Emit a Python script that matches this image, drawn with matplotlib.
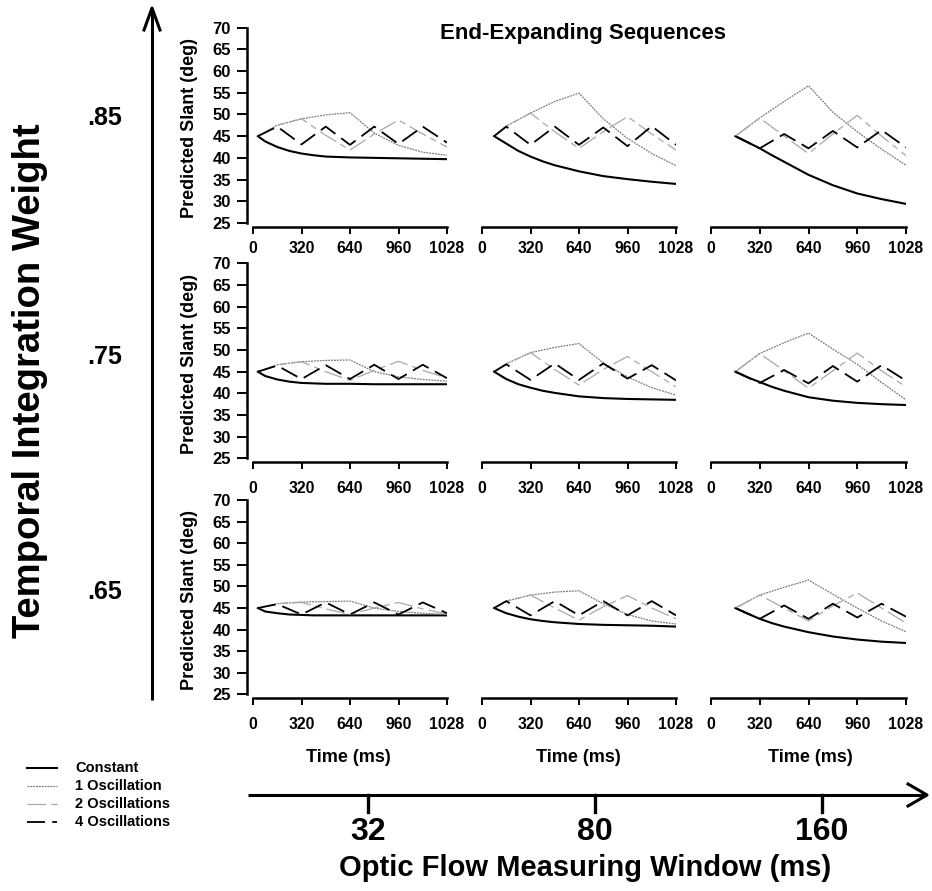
import matplotlib
matplotlib.use("Agg")
import matplotlib.pyplot as plt

plt.rcParams['font.family'] = ['Liberation Sans', 'DejaVu Sans']
plt.rcParams['font.weight'] = 'bold'

W, H = 932, 891

# ---------------- data ----------------
windows = [32, 80, 160]
weights = [".85", ".75", ".65"]
series_names = ["Constant", "1 Oscillation", "2 Oscillations", "4 Oscillations"]
xtick_vals = [0, 320, 640, 960, 1280]
xtick_labels = ["0", "320", "640", "960", "1028"]
ytick_vals = [25, 30, 35, 40, 45, 50, 55, 60, 65, 70]

# time samples (ms) per measuring window
t_const = {
    32: [32, 80, 160, 240, 320, 400, 480, 640, 800, 960, 1120, 1280],
    80: [80, 160, 240, 320, 400, 480, 640, 800, 960, 1120, 1280],
    160: [160, 240, 320, 400, 480, 640, 800, 960, 1120, 1280],
}
t_osc = {
    32: [32, 160, 320, 480, 640, 800, 960, 1120, 1280],
    80: [80, 160, 320, 480, 640, 800, 960, 1120, 1280],
    160: [160, 320, 480, 640, 800, 960, 1120, 1280],
}

# weight .85
const_85 = [[45, 43.8, 42.5, 41.6, 41.0, 40.6, 40.3, 40.1, 40.0, 39.9, 39.8, 39.7],
            [45, 43.3, 41.6, 40.3, 39.2, 38.3, 36.9, 35.8, 35.1, 34.5, 34.0],
            [45, 43.6, 42.2, 40.6, 39.1, 36.1, 33.7, 31.8, 30.5, 29.4]]
osc1_85 = [[45, 47.5, 49.0, 49.9, 50.4, 45.7, 42.9, 41.3, 40.6],
           [45, 47.3, 50.3, 53.0, 54.9, 49.0, 44.5, 41.0, 38.2],
           [45, 49.2, 53.0, 56.6, 50.5, 46.0, 42.0, 38.3]]
osc2_85 = [[45, 47.5, 49.0, 45.2, 41.8, 45.5, 48.7, 45.5, 42.5],
           [45, 47.3, 50.3, 46.0, 42.2, 46.0, 49.5, 45.5, 41.8],
           [45, 49.2, 45.0, 41.0, 45.5, 49.8, 45.0, 40.5]]
osc4_85 = [[45, 47.2, 43.1, 47.2, 43.0, 47.2, 43.2, 47.2, 43.5],
           [45, 47.2, 43.0, 47.2, 43.0, 47.0, 42.7, 47.3, 43.0],
           [45, 42.2, 45.5, 42.2, 46.2, 42.4, 46.4, 42.4]]

# weight .75
const_75 = [[45, 44.0, 43.2, 42.7, 42.4, 42.3, 42.2, 42.2, 42.1, 42.1, 42.1, 42.1],
            [45, 43.3, 42.1, 41.3, 40.6, 40.1, 39.3, 38.9, 38.7, 38.6, 38.5],
            [45, 43.7, 42.6, 41.5, 40.6, 39.1, 38.3, 37.8, 37.5, 37.3]]
osc1_75 = [[45, 46.6, 47.3, 47.6, 47.7, 45.0, 43.8, 43.2, 42.8],
           [45, 46.8, 49.4, 50.6, 51.5, 47.0, 43.8, 41.3, 39.6],
           [45, 49.2, 51.7, 53.9, 50.2, 46.7, 42.5, 38.5]]
osc2_75 = [[45, 46.6, 47.3, 45.0, 43.0, 45.3, 47.4, 45.3, 43.5],
           [45, 46.8, 49.4, 45.5, 41.9, 45.5, 48.5, 45.0, 41.5],
           [45, 49.2, 45.2, 41.2, 45.2, 49.3, 45.2, 41.5]]
osc4_75 = [[45, 46.4, 43.3, 46.5, 43.3, 46.6, 43.3, 46.6, 43.5],
           [45, 46.7, 43.1, 46.9, 43.1, 46.9, 43.4, 46.5, 43.0],
           [45, 42.4, 45.4, 42.3, 46.3, 42.7, 46.5, 42.9]]

# weight .65
const_65 = [[45, 44.2, 43.8, 43.5, 43.4, 43.3, 43.3, 43.3, 43.3, 43.3, 43.3, 43.3],
            [45, 43.8, 43.0, 42.4, 42.0, 41.7, 41.3, 41.1, 41.0, 40.9, 40.7],
            [45, 43.7, 42.5, 41.5, 40.7, 39.4, 38.4, 37.7, 37.2, 36.9]]
osc1_65 = [[45, 46.0, 46.4, 46.5, 46.6, 45.0, 44.2, 43.8, 43.5],
           [45, 46.6, 48.0, 48.7, 49.0, 46.0, 43.5, 42.0, 41.3],
           [45, 48.0, 49.8, 51.5, 48.2, 45.0, 42.0, 39.5]]
osc2_65 = [[45, 46.0, 46.3, 44.8, 43.5, 45.0, 46.3, 44.8, 43.6],
           [45, 46.6, 48.0, 45.0, 42.2, 45.3, 47.9, 45.0, 42.5],
           [45, 48.0, 45.0, 42.0, 45.5, 48.5, 45.0, 41.5]]
osc4_65 = [[45, 45.9, 43.5, 46.3, 43.5, 46.3, 43.5, 46.3, 43.8],
           [45, 46.6, 43.3, 46.6, 43.3, 46.6, 43.3, 46.6, 43.3],
           [45, 42.5, 45.6, 42.5, 46.0, 42.8, 46.0, 43.0]]

rows = [(const_85, osc1_85, osc2_85, osc4_85),
        (const_75, osc1_75, osc2_75, osc4_75),
        (const_65, osc1_65, osc2_65, osc4_65)]

# ---------------- styles ----------------
styles = [dict(color="black", lw=1.5, ls="-"),
          dict(color="#7a7a7a", lw=0.9, ls=(0, (1.5, 0.8))),
          dict(color="#a8a8a8", lw=0.9, ls=(0, (15, 4, 5, 4))),
          dict(color="black", lw=1.3, ls=(0, (10, 4)))]

fig = plt.figure(figsize=(W / 100, H / 100), dpi=100)

# overlay in pixel coordinates for decorations
ov = fig.add_axes([0, 0, 1, 1])
ov.set_xlim(0, W)
ov.set_ylim(H, 0)
ov.axis("off")

col_px = [(253, 447), (482, 676), (711, 906)]
row_px = [(27.6, 223.0), (263.4, 458.3), (500.2, 694.3)]
row_xpad = [5, 8, 8]

for r, (ytop, ybot) in enumerate(row_px):
    consts, o1s, o2s, o4s = rows[r]
    for c, (x0, x1) in enumerate(col_px):
        ax = fig.add_axes([x0 / W, 1 - ybot / H, (x1 - x0) / W, (ybot - ytop) / H])
        ax.patch.set_alpha(0)
        w = windows[c]
        ax.plot(t_const[w], consts[c], **styles[0])
        ax.plot(t_osc[w], o1s[c], **styles[1])
        ax.plot(t_osc[w], o2s[c], **styles[2])
        ax.plot(t_osc[w], o4s[c], **styles[3])
        ax.set_xlim(0, 1280)
        ax.set_ylim(25, 70)
        ax.spines["top"].set_visible(False)
        ax.spines["right"].set_visible(False)
        ax.spines["bottom"].set_position(("outward", 3))
        ax.spines["bottom"].set_linewidth(1.8)
        ax.set_xticks(xtick_vals)
        ax.set_xticklabels(xtick_labels, fontsize=11.3, fontweight="bold")
        ax.tick_params(axis="x", length=5, width=1.4, pad=row_xpad[r])
        if c == 0:
            ax.spines["left"].set_position(("outward", 4))
            ax.spines["left"].set_linewidth(1.8)
            ax.set_yticks(ytick_vals)
            ax.set_yticklabels([str(v) for v in ytick_vals], fontsize=12, fontweight="bold")
            ax.tick_params(axis="y", length=7, width=1.4, pad=5)
        else:
            ax.spines["left"].set_visible(False)
            ax.set_yticks([])
    ov.text(190, (ytop + ybot) / 2 + 3, "Predicted Slant (deg)", ha="center", va="center",
            rotation=90, fontsize=13, fontweight="bold")

# title
ov.text(583, 33, "End-Expanding Sequences", ha="center", va="center", fontsize=16, fontweight="bold")

# Time labels
time_x = [348, 578, 810]
for xx in time_x:
    ov.text(xx, 758, "Time (ms)", ha="center", va="center", fontsize=13, fontweight="bold")

# vertical arrow (temporal integration weight)
ov.plot([152, 152], [700, 9], color="black", lw=2.2, solid_capstyle="butt")
ov.plot([144, 152, 160], [30, 8, 30], color="black", lw=2.2)
w_y = [118, 357, 592]
for lab, yy in zip(weights, w_y):
    ov.text(122, yy, lab, ha="right", va="center", fontsize=18, fontweight="bold")
ov.text(30, 381, "Temporal Integration Weight", ha="center", va="center", rotation=90,
        fontsize=27.5, fontweight="bold")

# horizontal arrow (window)
ov.plot([248, 926], [795, 795], color="black", lw=2.2, solid_capstyle="butt")
ov.plot([908, 927, 908], [784, 795, 806], color="black", lw=2.2)
w_x = [368, 595, 822]
for lab, xx in zip(windows, w_x):
    ov.plot([xx, xx], [795, 812], color="black", lw=2.4)
    ov.text(xx, 832, str(lab), ha="center", va="center", fontsize=23, fontweight="bold")
ov.text(585, 868, "Optic Flow Measuring Window (ms)", ha="center", va="center", fontsize=21, fontweight="bold")

# legend
leg_y = [768, 786, 804, 822]
for name, st, yy in zip(series_names, styles, leg_y):
    ov.plot([27, 57], [yy, yy], color=st["color"], lw=st["lw"], ls=st["ls"])
    ov.text(75, yy, name, ha="left", va="center", fontsize=10.5, fontweight="bold")

fig.savefig("out.png", dpi=100)
